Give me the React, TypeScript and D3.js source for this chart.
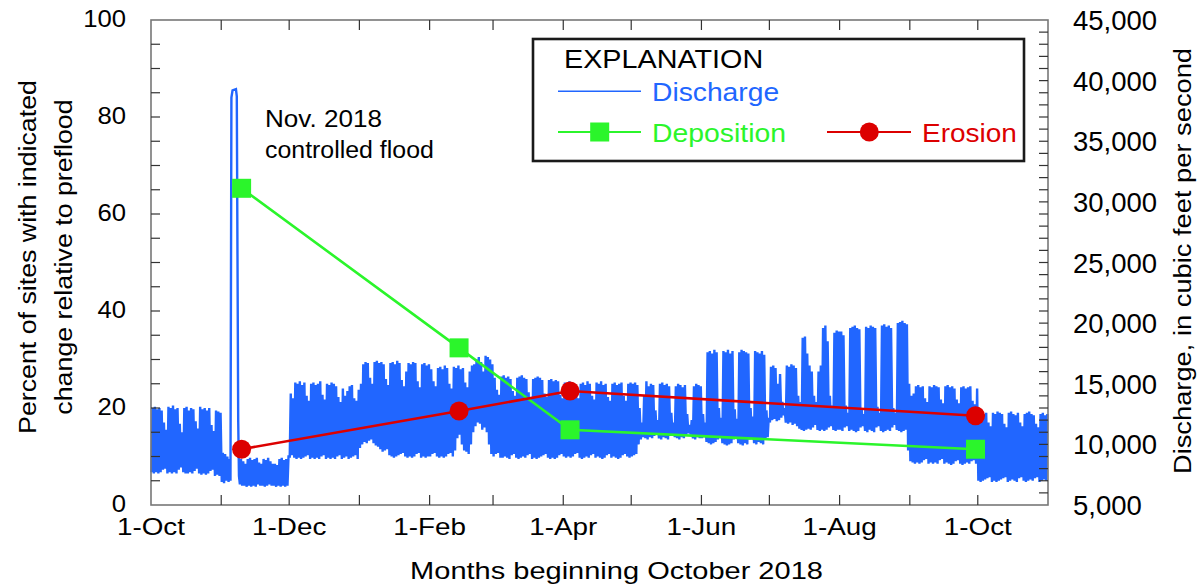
import React from 'react';
import * as d3 from 'd3';

const FONT = "'Liberation Sans', Arial, Helvetica, sans-serif";

// ---- Axis ticks / labels ----
const leftTickLabels = [0, 20, 40, 60, 80, 100];
const rightTickLabels = [5000, 10000, 15000, 20000, 25000, 30000, 35000, 40000, 45000];
const monthLabels = ['1-Oct', '1-Dec', '1-Feb', '1-Apr', '1-Jun', '1-Aug', '1-Oct'];
const monthLabelDates = ['2018-10-01', '2018-12-01', '2019-02-01', '2019-04-01', '2019-06-01', '2019-08-01', '2019-10-01'];

// ---- Survey series (percent of sites) ----
const surveyDates = ['2018-11-10', '2019-02-14', '2019-04-04', '2019-09-30'];
const depositionPct = [65.3, 32.4, 15.5, 11.5];
const erosionPct = [11.5, 19.4, 23.5, 18.4];

// ---- Discharge: daily max / min, hundreds of cfs, from 1-Oct-2018 (one line per month) ----
const dailyMaxHcfs: (number | null)[] = [
  130,131,129,130,128,118,112,131,130,132,129,130,117,110,130,131,128,130,129,119,113,131,129,130,128,130,116,111,128,127,126,
  93,92,90,88,null,null,null,null,88,86,84,88,89,87,88,89,85,84,88,87,89,86,84,84,83,88,89,87,88,90,
  142,138,151,150,152,149,151,140,136,150,151,149,150,152,141,137,150,149,151,150,148,139,135,146,140,144,148,149,138,136,145,
  150,166,168,167,155,150,168,169,167,168,166,154,149,167,168,166,169,167,153,148,160,167,166,168,167,152,147,166,167,165,166,
  162,152,148,163,164,162,165,163,150,146,164,163,165,162,163,151,147,160,165,166,170,172,168,160,173,172,170,166,
  155,145,141,156,157,155,156,154,144,140,155,156,157,155,154,143,139,154,155,156,155,153,142,139,153,154,152,153,152,141,138,
  151,150,152,151,150,141,138,150,151,149,152,150,140,137,151,150,152,149,150,139,136,150,151,149,150,151,140,136,150,151,
  150,151,149,130,118,140,152,148,150,149,128,120,150,151,149,150,148,126,118,148,150,149,147,149,125,116,120,148,150,149,148,
  125,118,176,177,175,178,176,130,122,177,176,178,175,177,129,121,176,178,177,176,175,130,123,177,176,175,177,174,128,122,
  164,165,163,150,158,135,130,165,164,166,165,163,140,135,188,189,175,165,160,140,135,160,165,196,198,185,140,132,192,194,193,
  193,190,132,126,196,197,198,196,195,130,125,197,196,198,197,196,131,126,198,199,197,198,196,130,126,200,201,202,200,199,150,
  140,142,148,149,147,148,138,135,148,147,149,148,147,137,134,148,149,147,148,146,137,134,147,148,146,147,148,136,133,146,
  126,127,125,126,118,115,126,125,127,126,125,117,114,126,127,125,124,126,118,115,125,126,127,125,124,117,114,125,126,124,125,
];
const dailyMinHcfs: (number | null)[] = [
  77,76,77,76,77,79,80,76,77,76,77,76,79,81,77,76,76,77,76,78,80,76,75,76,75,76,78,79,74,75,74,
  69,68,70,69,null,null,null,null,67,66,66,65,66,65,66,65,67,66,66,65,66,67,66,66,65,66,65,66,65,66,
  90,91,89,88,89,88,89,90,91,88,89,88,89,88,90,91,88,89,88,89,88,90,91,88,89,90,88,89,90,91,88,
  97,100,102,101,103,104,101,99,98,96,94,95,96,91,90,89,90,91,92,93,90,89,90,89,90,92,93,89,90,89,90,
  90,92,93,90,89,90,89,90,92,93,90,95,105,108,100,95,94,92,100,110,115,118,117,112,114,110,100,92,
  90,92,93,89,89,90,89,88,91,92,89,88,89,90,89,91,92,88,89,88,89,90,91,92,89,88,89,88,89,91,92,
  90,89,90,89,90,92,93,89,88,89,90,89,91,92,89,90,89,88,89,91,92,89,90,89,88,89,91,92,90,89,
  90,91,92,100,104,106,105,104,106,105,107,108,105,104,106,105,104,107,108,106,105,104,106,105,108,109,108,105,104,106,105,
  105,106,102,101,100,101,102,104,105,101,100,99,100,101,104,105,101,100,99,101,100,104,105,101,100,102,101,100,104,106,
  118,120,121,119,120,122,124,118,117,118,116,117,115,113,112,111,112,113,112,114,116,112,111,112,111,112,114,115,112,111,112,
  112,111,114,115,111,112,111,110,111,114,115,111,110,112,111,110,114,115,111,110,111,112,111,114,116,112,111,110,111,112,95,
  86,85,84,85,84,85,87,88,84,85,84,85,84,87,88,84,85,84,83,84,86,87,84,83,84,85,84,86,87,84,
  70,69,70,71,72,73,69,70,69,70,71,72,73,69,70,71,70,69,72,73,70,69,70,71,70,72,73,69,70,71,70,
];

// ---- Nov. 2018 controlled flood hydrograph ----
const floodTimes = ['2018-11-05T02:00', '2018-11-05T12:00', '2018-11-06T00:00', '2018-11-07T12:00', '2018-11-07T21:00', '2018-11-08T12:00', '2018-11-08T20:00'];
const floodCfs = [7000, 38600, 39200, 39300, 38700, 12000, 7400];

const BLUE = '#2166ff';
const GREEN = '#2bf52b';
const RED = '#dc0000';

const parseDay = d3.timeParse('%Y-%m-%d');
const parseTime = d3.timeParse('%Y-%m-%dT%H:%M');

type TP = { x: number; y: number; sx?: number; rot?: number; anchor?: string; size: number; fill?: string; children: React.ReactNode };
function T({ x, y, sx = 1, rot = 0, anchor = 'start', size, fill = '#000', children }: TP) {
  return (
    <text
      transform={`translate(${x},${y}) rotate(${rot}) scale(${sx},1)`}
      textAnchor={anchor as any}
      fontSize={size}
      fill={fill}
      fontFamily={FONT}
    >
      {children}
    </text>
  );
}

export default function App() {
  const W = 1204, H = 586;
  const L = 151, R = 1048, TOP = 20, BOT = 505;
  const start = parseDay('2018-10-01')!;
  const end = parseDay('2019-11-01')!;
  const x = d3.scaleTime().domain([start, end]).range([L, R]);
  const yL = d3.scaleLinear().domain([0, 100]).range([BOT, TOP]);
  const yR = d3.scaleLinear().domain([5000, 45000]).range([BOT, TOP]);

  // discharge trace
  const pts: [Date, number][] = [];
  dailyMaxHcfs.forEach((mx, i) => {
    const mn = dailyMinHcfs[i];
    if (mx == null || mn == null) return;
    const day = d3.timeDay.offset(start, i);
    pts.push([d3.timeHour.offset(day, 6), mn * 100]);
    pts.push([d3.timeHour.offset(day, 17), mx * 100]);
  });
  floodTimes.forEach((t, i) => pts.push([parseTime(t)!, floodCfs[i]]));
  pts.sort((a, b) => +a[0] - +b[0]);
  const qLine = d3.line<[Date, number]>().x(d => x(d[0])).y(d => yR(d[1]))(pts) || '';

  const sDates = surveyDates.map(s => parseDay(s)!);
  const pctLine = d3.line<[Date, number]>().x(d => x(d[0])).y(d => yL(d[1]));
  const depPts: [Date, number][] = sDates.map((d, i) => [d, depositionPct[i]]);
  const eroPts: [Date, number][] = sDates.map((d, i) => [d, erosionPct[i]]);

  const months = d3.timeMonth.range(d3.timeMonth.offset(start, 1), end);
  const leftMinor = d3.range(5, 100, 5);
  const rightMinor = d3.range(6000, 45000, 1000);

  const SQ = 19, CR = 9.5;

  return (
    <svg width={W} height={H} style={{ position: 'absolute', left: 0, top: 0, background: '#fff' }}>
      <rect x={0} y={0} width={W} height={H} fill="#fff" />
      {/* discharge */}
      <path d={qLine} fill="none" stroke={BLUE} strokeWidth={2.4} strokeLinejoin="miter" strokeMiterlimit={2} />

      {/* deposition */}
      <path d={pctLine(depPts) || ''} fill="none" stroke={GREEN} strokeWidth={2.6} />
      {depPts.map((d, i) => (
        <rect key={'dq' + i} x={x(d[0]) - SQ / 2} y={yL(d[1]) - SQ / 2} width={SQ} height={SQ} fill={GREEN} />
      ))}
      {/* erosion */}
      <path d={pctLine(eroPts) || ''} fill="none" stroke={RED} strokeWidth={2.6} />
      {eroPts.map((d, i) => (
        <circle key={'ec' + i} cx={x(d[0])} cy={yL(d[1])} r={CR} fill={RED} />
      ))}

      {/* frame */}
      <rect x={L} y={TOP} width={R - L} height={BOT - TOP} fill="none" stroke="#777" strokeWidth={1.6} />
      {/* month ticks */}
      {months.map((m, i) => (
        <g key={'mt' + i} stroke="#333" strokeWidth={1.2}>
          <line x1={x(m)} x2={x(m)} y1={BOT} y2={BOT - 10} />
          <line x1={x(m)} x2={x(m)} y1={TOP} y2={TOP + 10} />
        </g>
      ))}
      {leftMinor.map(v => (
        <line key={'lt' + v} x1={L} x2={L + 9} y1={yL(v)} y2={yL(v)} stroke="#333" strokeWidth={1.2} />
      ))}
      {rightMinor.map(v => (
        <line key={'rt' + v} x1={R} x2={R - 9} y1={yR(v)} y2={yR(v)} stroke="#333" strokeWidth={1.2} />
      ))}

      {/* tick labels */}
      {leftTickLabels.map(v => (
        <T key={'ll' + v} x={126} y={yL(v) + 6.5} anchor="end" size={24} sx={1.07}>{v}</T>
      ))}
      {rightTickLabels.map(v => (
        <T key={'rl' + v} x={1073} y={yR(v) + 10} size={27.5}>{d3.format(',')(v)}</T>
      ))}
      {monthLabels.map((lab, i) => (
        <T key={'ml' + i} x={x(parseDay(monthLabelDates[i])!)} y={535} anchor="middle" size={24} sx={1.16}>{lab}</T>
      ))}

      {/* axis titles */}
      <T x={616.5} y={579} anchor="middle" size={23.5} sx={1.235}>Months beginning October 2018</T>
      <T x={36} y={257} rot={-90} anchor="middle" size={24} sx={1.115}>Percent of sites with indicated</T>
      <T x={72} y={257} rot={-90} anchor="middle" size={24} sx={1.115}>change relative to preflood</T>
      <T x={1191} y={261} rot={-90} anchor="middle" size={24} sx={1.137}>Discharge, in cubic feet per second</T>

      {/* annotation */}
      <T x={265} y={126.7} size={23.5} sx={1.11}>Nov. 2018</T>
      <T x={265} y={157.7} size={23.5} sx={1.06}>controlled flood</T>

      {/* legend */}
      <rect x={533} y={39} width={491} height={122} fill="#fff" stroke="#1a1a1a" strokeWidth={2.6} />
      <T x={564} y={67.5} size={25} sx={1.15}>EXPLANATION</T>
      <line x1={558} x2={641} y1={91.3} y2={91.3} stroke={BLUE} strokeWidth={1.6} />
      <T x={652} y={101} size={25} sx={1.13} fill={BLUE}>Discharge</T>
      <line x1={558} x2={641} y1={132} y2={132} stroke={GREEN} strokeWidth={2} />
      <rect x={599.7 - SQ / 2} y={132 - SQ / 2} width={SQ} height={SQ} fill={GREEN} />
      <T x={652} y={141.7} size={25} sx={1.135} fill={GREEN}>Deposition</T>
      <line x1={827} x2={911} y1={132} y2={132} stroke={RED} strokeWidth={2} />
      <circle cx={869.3} cy={132} r={CR} fill={RED} />
      <T x={922} y={141.7} size={25} sx={1.12} fill={RED}>Erosion</T>
    </svg>
  );
}
